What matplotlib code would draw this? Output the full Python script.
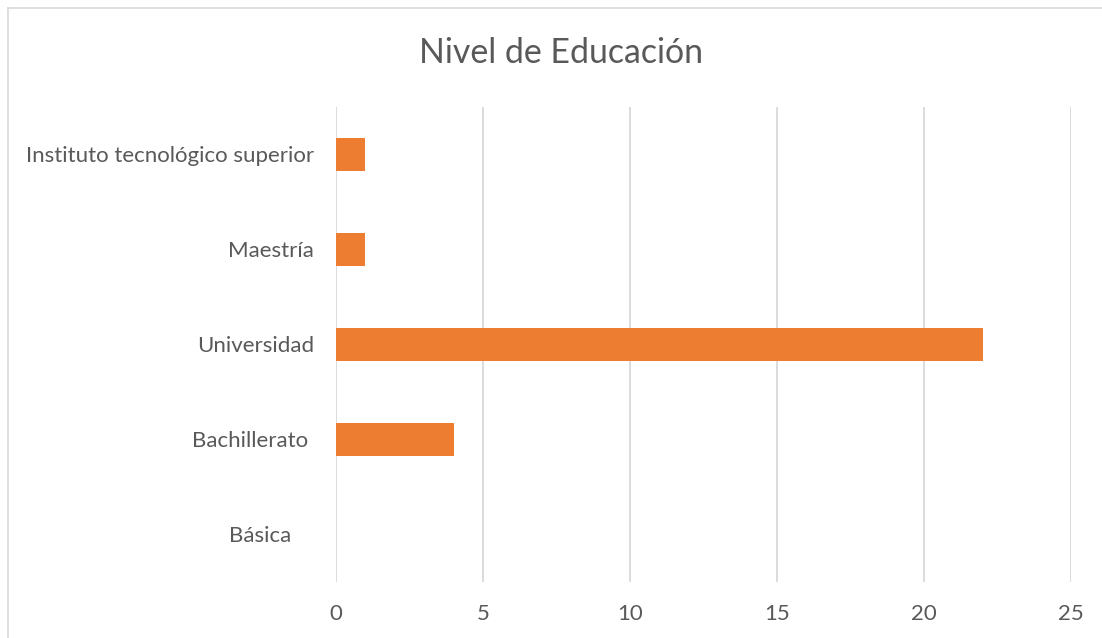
import matplotlib
matplotlib.use('Agg')
import matplotlib.pyplot as plt
import matplotlib.lines as mlines

# etiquetas tal como salen de Excel (algunas con espacios al final)
categorias = ['Básica    ', 'Bachillerato ', 'Universidad', 'Maestría', 'Instituto tecnológico superior']
valores = [0, 4, 22, 1, 1]
x_ticks = [0, 5, 10, 15, 20, 25]

plt.rcParams['font.family'] = ['Lato', 'DejaVu Sans']

fig = plt.figure(figsize=(11.02, 6.38), dpi=100)
ax = fig.add_axes([0.3049, 0.0878, 0.9719 - 0.3049, 0.8323 - 0.0878])

ax.barh(range(len(categorias)), valores, height=0.35, color='#ed7d31', zorder=3)
ax.set_xlim(0, 25)
ax.set_ylim(-0.5, len(categorias) - 0.5)
ax.set_xticks(x_ticks)
ax.set_yticks(range(len(categorias)))
ax.set_yticklabels(categorias)
ax.xaxis.grid(True, color='#d9d9d9', linewidth=1.3, zorder=0)
for s in ax.spines.values():
    s.set_visible(False)
ax.tick_params(axis='both', length=0, labelsize=16, colors='#595959')
ax.tick_params(axis='x', pad=16)
ax.tick_params(axis='y', pad=16)

fig.text(561 / 1102, 1 - 53 / 638, 'Nivel de Educación', ha='center', va='center',
         fontsize=24.4, color='#595959')

# borde del área del gráfico (solo arriba e izquierda, la captura está recortada)
x0, y0 = 7.5 / 1102, 1 - 7.5 / 638
fig.lines.append(mlines.Line2D([x0, 1], [y0, y0], transform=fig.transFigure,
                               color='#d9d9d9', linewidth=1.2))
fig.lines.append(mlines.Line2D([x0, x0], [0, y0], transform=fig.transFigure,
                               color='#d9d9d9', linewidth=1.2))

fig.savefig('out.png', dpi=100)
